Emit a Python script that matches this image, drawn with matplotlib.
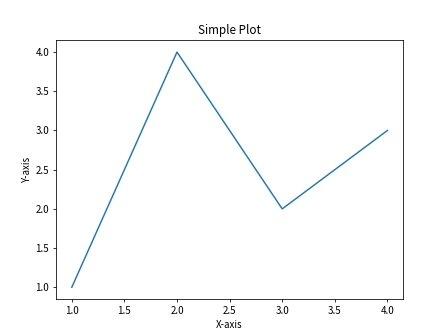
import matplotlib
matplotlib.use("Agg")
import matplotlib.pyplot as plt

plt.rcParams['font.family'] = ['Noto Sans CJK SC', 'DejaVu Sans']

x = [1, 2, 3, 4]
y = [1, 4, 2, 3]

fig, ax = plt.subplots(figsize=(6.4, 4.8), dpi=70)
ax.plot(x, y)
ax.set_title("Simple Plot")
ax.set_xlabel("X-axis")
ax.set_ylabel("Y-axis")
fig.savefig("out.png", dpi=70)
